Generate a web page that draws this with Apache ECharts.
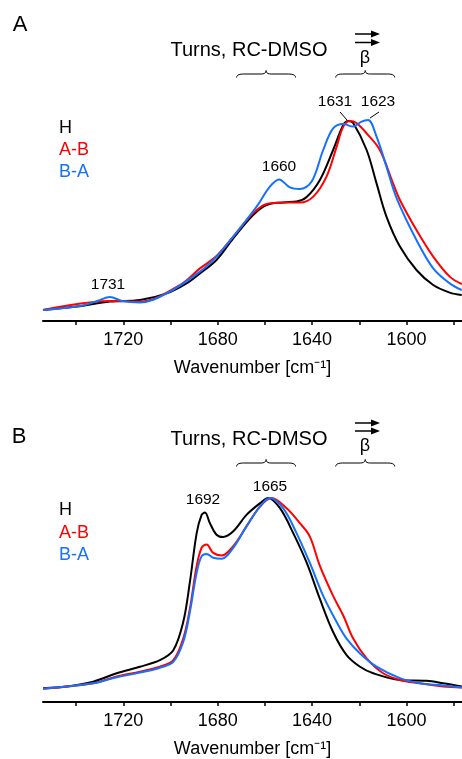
<!DOCTYPE html>
<html>
<head>
<meta charset="utf-8">
<script src="https://cdn.jsdelivr.net/npm/echarts@6/dist/echarts.min.js"></script>
<style>
  html, body { margin: 0; padding: 0; background: #fff; }
  #charts { width: 462px; height: 759px; }
</style>
</head>
<body>
<div id="charts"></div>
<script>
// The container
var irChart = echarts.init(document.getElementById('charts'));

var FONT = '"Liberation Sans", Arial, sans-serif';
var colors = ['#000000', '#ff0000', '#1570ff'];
var seriesNames = ['H', 'A-B', 'B-A'];

// axis ticks / labels (wavenumber, cm-1)
var tickValues = [1740, 1720, 1700, 1680, 1660, 1640, 1620, 1600, 1580];
var labelValues = [1720, 1680, 1640, 1600];

// panel A: wavenumber / normalised absorbance
var wnA_H = [1754, 1739.7, 1725.6, 1712.9, 1701.6, 1693.2, 1687.5, 1680.5, 1673.4, 1665, 1659.3, 1652.3, 1646.6, 1642.3, 1636.7, 1631.1, 1626.8, 1624.7, 1622.6, 1616.9, 1612.7, 1608.5, 1602.8, 1595.8, 1588.7, 1581.7, 1576.6];
var absA_H = [0.055, 0.072, 0.097, 0.105, 0.138, 0.188, 0.238, 0.305, 0.413, 0.53, 0.58, 0.593, 0.597, 0.62, 0.705, 0.855, 0.98, 1.0, 0.99, 0.855, 0.688, 0.522, 0.372, 0.255, 0.18, 0.142, 0.13];

var wnA_AB = [1754, 1725.6, 1712.9, 1696, 1687.5, 1680.5, 1673.4, 1665, 1659.3, 1652.3, 1645.2, 1639.5, 1633.9, 1629.6, 1626.8, 1624, 1621.2, 1616.9, 1611.3, 1605.7, 1602.8, 1595.8, 1588.7, 1581.7, 1576.6];
var absA_AB = [0.055, 0.1, 0.097, 0.18, 0.263, 0.325, 0.422, 0.538, 0.585, 0.593, 0.592, 0.622, 0.722, 0.872, 0.972, 1.0, 0.99, 0.938, 0.855, 0.688, 0.605, 0.455, 0.322, 0.222, 0.185];

var wnA_BA = [1754, 1737, 1731, 1725.6, 1720.5, 1712.9, 1701.6, 1687.5, 1680.5, 1673.4, 1663.5, 1657.9, 1654, 1649.4, 1645.2, 1640.2, 1635.3, 1631.1, 1626.8, 1622.6, 1619.1, 1616.3, 1612.7, 1608.5, 1604.3, 1595.8, 1588.7, 1581.7, 1576.6];
var absA_BA = [0.055, 0.078, 0.1, 0.12, 0.1, 0.093, 0.138, 0.247, 0.322, 0.422, 0.572, 0.672, 0.708, 0.668, 0.66, 0.697, 0.855, 0.963, 0.985, 0.972, 0.997, 1.005, 0.922, 0.772, 0.617, 0.405, 0.263, 0.188, 0.155];

// panel B
var wnB_H = [1754, 1744, 1732.7, 1722.8, 1712.9, 1704.5, 1698.8, 1694.6, 1691.8, 1688.9, 1686.8, 1685.4, 1683.3, 1680.5, 1677.7, 1673.4, 1667.8, 1662.1, 1658.6, 1653.6, 1648, 1642.3, 1636.7, 1631.1, 1625.4, 1619.7, 1614.1, 1602.8, 1591.5, 1584.5, 1576.6];
var absB_H = [0.068, 0.076, 0.1, 0.141, 0.173, 0.205, 0.254, 0.392, 0.586, 0.828, 0.917, 0.929, 0.877, 0.82, 0.809, 0.837, 0.917, 0.974, 1.0, 0.95, 0.828, 0.683, 0.505, 0.343, 0.23, 0.173, 0.141, 0.108, 0.104, 0.092, 0.076];

var wnB_AB = [1754, 1732.7, 1722.8, 1712.9, 1704.5, 1698.8, 1694.6, 1691.8, 1688.9, 1686.8, 1684.7, 1681.9, 1678.3, 1673.4, 1667.8, 1662.1, 1657.2, 1650.8, 1645.2, 1641, 1636.7, 1631.1, 1626.8, 1622.6, 1616.9, 1609.9, 1602.8, 1594.4, 1584.5, 1576.6];
var absB_AB = [0.065, 0.092, 0.125, 0.149, 0.173, 0.205, 0.311, 0.456, 0.667, 0.756, 0.772, 0.731, 0.718, 0.764, 0.861, 0.958, 1.0, 0.95, 0.877, 0.812, 0.667, 0.52, 0.424, 0.311, 0.214, 0.141, 0.108, 0.092, 0.076, 0.071];

var wnB_BA = [1754, 1732.7, 1722.8, 1712.9, 1704.5, 1698.8, 1694.6, 1691.8, 1688.9, 1686.8, 1684.7, 1681.9, 1678.3, 1673.4, 1667.8, 1662.1, 1657.9, 1652.3, 1646.6, 1641, 1635.3, 1629.6, 1625.4, 1619.7, 1612.7, 1602.8, 1594.4, 1584.5, 1576.6];
var absB_BA = [0.065, 0.092, 0.121, 0.144, 0.168, 0.197, 0.294, 0.44, 0.634, 0.715, 0.726, 0.707, 0.702, 0.756, 0.861, 0.958, 1.0, 0.95, 0.828, 0.683, 0.52, 0.392, 0.311, 0.238, 0.173, 0.117, 0.092, 0.081, 0.071];

// brace ranges (wavenumber)
var turnsRange = [1672, 1647];
var betaRange = [1630, 1605];

function pairs(xs, ys) {
    var out = [], i = 0;
    for (i; i < xs.length; i++) {
        out.push([xs[i], ys[i]]);
    }
    return out;
}

function makeXAxis(gridIndex) {
    return {
        type: 'value',
        gridIndex: gridIndex,
        inverse: true,
        min: 1576.5,
        max: 1754,
        name: 'Wavenumber [cm\u207B\u00B9]',
        nameLocation: 'middle',
        nameGap: 38,
        nameTextStyle: { color: '#000', fontSize: 18, fontFamily: FONT },
        splitLine: { show: false },
        axisLine: { show: true, onZero: false, lineStyle: { color: '#000', width: 2 } },
        axisTick: { show: true, length: 4, lineStyle: { color: '#000', width: 1.5 }, customValues: tickValues },
        axisLabel: {
            color: '#000', fontSize: 18, fontFamily: FONT, margin: 10, customValues: labelValues,
            formatter: function (v) { return String(v); }
        }
    };
}

function makeYAxis(gridIndex) {
    return { type: 'value', gridIndex: gridIndex, min: 0, max: 1, show: false };
}

function makeSeries(name, idx, xs, ys, axisIdx) {
    return {
        name: name,
        type: 'line',
        xAxisIndex: axisIdx,
        yAxisIndex: axisIdx,
        smooth: 0.35,
        showSymbol: false,
        clip: false,
        lineStyle: { color: colors[idx], width: 2 },
        data: pairs(xs, ys)
    };
}

var option = {
    animation: false,
    grid: [
        { left: 43, right: 0, top: 121, height: 200 },
        { left: 43, right: 0, top: 498, height: 206 }
    ],
    xAxis: [makeXAxis(0), makeXAxis(1)],
    yAxis: [makeYAxis(0), makeYAxis(1)],
    series: [
        makeSeries('H', 0, wnA_H, absA_H, 0),
        makeSeries('A-B', 1, wnA_AB, absA_AB, 0),
        makeSeries('B-A', 2, wnA_BA, absA_BA, 0),
        makeSeries('H', 0, wnB_H, absB_H, 1),
        makeSeries('A-B', 1, wnB_AB, absB_AB, 1),
        makeSeries('B-A', 2, wnB_BA, absB_BA, 1)
    ]
};
irChart.setOption(option);

function txt(s, x, y, size, color, align) {
    return {
        type: 'text',
        style: {
            text: s, x: x, y: y, fill: color || '#000',
            font: size + 'px ' + FONT,
            textAlign: align || 'center', textVerticalAlign: 'middle'
        }
    };
}

// sample a quadratic bezier into points
function quad(p0, p1, p2, pts) {
    var t;
    for (t = 0; t <= 1.0001; t += 0.2) {
        pts.push([
            (1 - t) * (1 - t) * p0[0] + 2 * (1 - t) * t * p1[0] + t * t * p2[0],
            (1 - t) * (1 - t) * p0[1] + 2 * (1 - t) * t * p1[1] + t * t * p2[1]
        ]);
    }
}

function brace(range, gridIdx, yTop) {
    var x1 = irChart.convertToPixel({ xAxisIndex: gridIdx }, range[0]);
    var x2 = irChart.convertToPixel({ xAxisIndex: gridIdx }, range[1]);
    var xm = (x1 + x2) / 2;
    var yb = yTop + 3.5, yt = yTop, yp = yTop - 3.5;
    var pts = [];
    quad([x1, yb], [x1, yt], [x1 + 7, yt], pts);
    quad([xm - 5, yt], [xm, yt], [xm, yp], pts);
    quad([xm, yp], [xm, yt], [xm + 5, yt], pts);
    quad([x2 - 7, yt], [x2, yt], [x2, yb], pts);
    return { type: 'polyline', shape: { points: pts }, style: { stroke: '#000', lineWidth: 1, fill: null } };
}

function arrow(y) {
    return [
        { type: 'line', shape: { x1: 355, y1: y, x2: 372, y2: y }, style: { stroke: '#000', lineWidth: 1.5 } },
        { type: 'polygon', shape: { points: [[371, y - 3.5], [380, y], [371, y + 3.5]] }, style: { fill: '#000' } }
    ];
}

function leader(x1, y1, x2, y2) {
    return { type: 'line', shape: { x1: x1, y1: y1, x2: x2, y2: y2 }, style: { stroke: '#000', lineWidth: 1 } };
}

var graphics = [
    // panel A
    txt('A', 20, 25, 22),
    txt('Turns, RC-DMSO', 249, 50, 20),
    txt('\u03B2', 365, 58, 18),
    brace(turnsRange, 0, 74),
    brace(betaRange, 0, 74),
    txt('H', 59, 128, 18, colors[0], 'left'),
    txt('A-B', 59, 150, 18, colors[1], 'left'),
    txt('B-A', 59, 172, 18, colors[2], 'left'),
    txt('1631', 335, 102, 15.5),
    txt('1623', 378, 102, 15.5),
    leader(340, 112, 347, 120),
    leader(379, 112, 370, 118),
    txt('1660', 279, 167, 15.5),
    txt('1731', 108, 285, 15.5),
    // panel B
    txt('B', 19, 437, 22),
    txt('Turns, RC-DMSO', 249, 439, 20),
    txt('\u03B2', 365, 446, 18),
    brace(turnsRange, 1, 463),
    brace(betaRange, 1, 463),
    txt('H', 59, 510, 18, colors[0], 'left'),
    txt('A-B', 59, 533, 18, colors[1], 'left'),
    txt('B-A', 59, 555, 18, colors[2], 'left'),
    txt('1692', 203, 500, 15.5),
    txt('1665', 270, 487, 15.5)
].concat(arrow(34), arrow(42.5), arrow(423), arrow(431));

irChart.setOption({ graphic: graphics });
</script>
</body>
</html>
